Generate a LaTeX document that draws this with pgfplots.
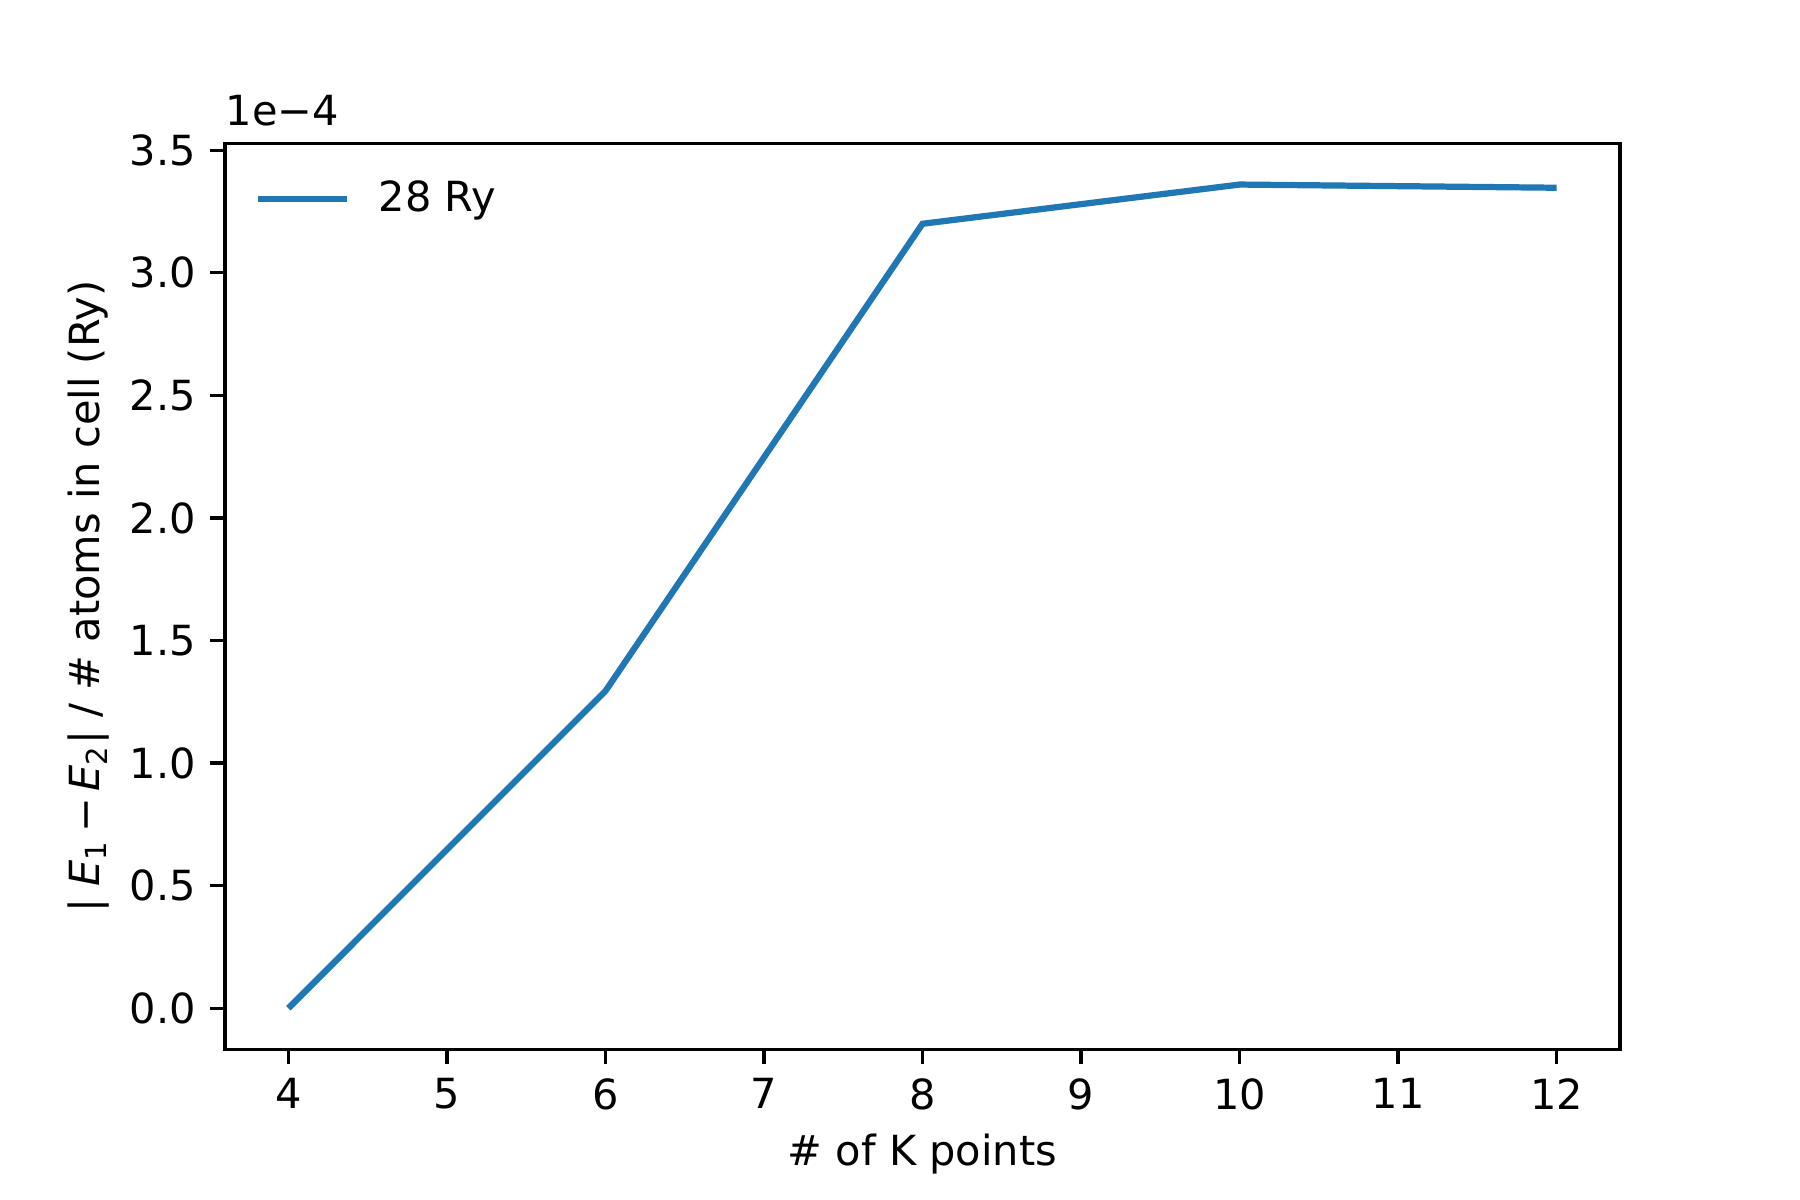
\documentclass[border=0pt]{standalone}
\usepackage{pgfplots}
\pgfplotsset{compat=1.18}
\usepackage{fontspec}
\setmainfont{DejaVu Sans}
\definecolor{mplblue}{HTML}{1F77B4}
\begin{document}
\begin{tikzpicture}
\begin{axis}[
  name=ax,
  scale only axis,
  width=4.65in, height=3.02in,
  xmin=3.6, xmax=12.4,
  ymin=-0.168, ymax=3.528,
  xtick={4,5,6,7,8,9,10,11,12},
  ytick={0,0.5,1,1.5,2,2.5,3,3.5},
  yticklabel style={/pgf/number format/.cd, fixed, fixed zerofill, precision=1},
  /pgf/number format/assume math mode=true,
  tick align=outside,
  major tick length=3.5pt,
  tick style={black, line width=0.8pt},
  axis line style={line width=0.8pt},
  tick pos=left,
  every tick label/.append style={font=\fontsize{10}{12}\selectfont},
  label style={font=\fontsize{10}{12}\selectfont},
  xlabel={\# of K points},
  ylabel={|\;\textit{E}\textsubscript{1}\,−\,\textit{E}\textsubscript{2}| / \# atoms in cell (Ry)},
  xlabel style={yshift=1pt},
  ylabel style={yshift=-2pt},
  legend style={draw=none, fill=none, at={(0.012,0.978)}, anchor=north west, font=\fontsize{10}{12}\selectfont, row sep=2pt},
  legend cell align=left,
  legend image code/.code={\draw[#1] (0cm,0cm) -- (0.75cm,0cm);},
  clip=false,
]
\addplot[mplblue, line width=1.5pt] coordinates {
  (4,0.0) (6,1.294) (8,3.20) (10,3.36) (12,3.347)
};
\addlegendentry{\hspace{0.5em}28 Ry}
\node[anchor=south west, inner sep=0pt, font=\fontsize{10}{12}\selectfont] at ([yshift=4pt]rel axis cs:0,1) {1e−4};
\end{axis}
\path ([xshift=-0.75in, yshift=-0.5in]ax.south west) rectangle ([xshift=0.6in, yshift=0.478in]ax.north east);
\end{tikzpicture}
\end{document}
